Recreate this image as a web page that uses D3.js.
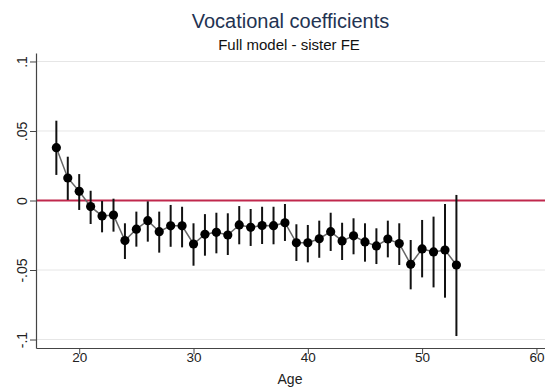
<!DOCTYPE html>
<html>
<head>
<meta charset="utf-8">
<script src="https://cdn.jsdelivr.net/npm/d3@7"></script>
<style>
  html, body { margin: 0; padding: 0; background: #fff; }
  svg { display: block; font-family: "Liberation Sans", Arial, sans-serif; }
</style>
</head>
<body>
<svg id="chart" width="545" height="389"></svg>
<script>
// Age-specific coefficients with 95% confidence intervals
const ages = [18,19,20,21,22,23,24,25,26,27,28,29,30,31,32,33,34,35,36,37,38,39,40,41,42,43,44,45,46,47,48,49,50,51,52,53];
const coef = [0.038,0.0162,0.0066,-0.0044,-0.0111,-0.0105,-0.0288,-0.0206,-0.0145,-0.0224,-0.0182,-0.0182,-0.0313,-0.0243,-0.0229,-0.0248,-0.0176,-0.0193,-0.018,-0.0181,-0.016,-0.0304,-0.0304,-0.0275,-0.0224,-0.0291,-0.0254,-0.0298,-0.0327,-0.0277,-0.031,-0.0459,-0.0348,-0.037,-0.0356,-0.0464];
const ciLow = [0.0184,0.0004,-0.0068,-0.0169,-0.0229,-0.0224,-0.0421,-0.0332,-0.0296,-0.0375,-0.0333,-0.0337,-0.0469,-0.0397,-0.038,-0.0392,-0.0315,-0.0327,-0.0313,-0.0315,-0.0291,-0.0435,-0.0445,-0.0412,-0.0363,-0.0428,-0.0387,-0.044,-0.0457,-0.0409,-0.0464,-0.0639,-0.0553,-0.0625,-0.0699,-0.0975];
const ciHigh = [0.0574,0.0315,0.019,0.007,-0.0004,0.0013,-0.0164,-0.008,-0.0006,-0.008,-0.0032,-0.0045,-0.0164,-0.0098,-0.0088,-0.0092,-0.004,-0.0061,-0.0045,-0.0045,-0.0025,-0.0171,-0.0176,-0.0145,-0.0088,-0.016,-0.0128,-0.0164,-0.02,-0.0145,-0.0164,-0.0284,-0.014,-0.0116,-0.0025,0.004];

const xTicks = [20, 30, 40, 50, 60];
const yTicks = [-0.1, -0.05, 0, 0.05, 0.1];
const yTickLabels = ["-.1", "-.05", "0", ".05", ".1"];

const titleText = "Vocational coefficients";
const subtitleText = "Full model - sister FE";
const xLabel = "Age";

const rows = ages.map((a, i) => ({ age: a, b: coef[i], lo: ciLow[i], hi: ciHigh[i] }));

const svg = d3.select("#chart");
const plotLeft = 36, plotRight = 545, plotTop = 53, plotBottom = 348;

const x = d3.scaleLinear().domain([16.22, 60.75]).range([plotLeft, plotRight]);
const y = d3.scaleLinear().domain([-0.1061, 0.1061]).range([plotBottom, plotTop]);

// gridlines
svg.append("g")
  .selectAll("line")
  .data(yTicks.filter(t => t !== 0))
  .join("line")
  .attr("x1", plotLeft).attr("x2", plotRight)
  .attr("y1", d => y(d)).attr("y2", d => y(d))
  .attr("stroke", "#e6e6e6").attr("stroke-width", 1);

// reference line at zero
svg.append("line")
  .attr("x1", plotLeft).attr("x2", plotRight)
  .attr("y1", y(0)).attr("y2", y(0))
  .attr("stroke", "#c0284d").attr("stroke-width", 2);

// y axis
const yAxis = svg.append("g")
  .attr("transform", `translate(${plotLeft},0)`)
  .call(d3.axisLeft(y).tickValues(yTicks).tickSize(6).tickSizeOuter(0)
    .tickFormat((d, i) => yTickLabels[i]));
yAxis.select(".domain").attr("stroke", "#444").attr("stroke-width", 1.2);
yAxis.selectAll(".tick line").attr("stroke", "#444");
yAxis.selectAll(".tick text")
  .attr("x", 0).attr("y", 0)
  .attr("dy", 0)
  .attr("text-anchor", "middle")
  .attr("transform", "translate(-9.5,0) rotate(-90)")
  .attr("fill", "#222")
  .style("font-size", "14px")
  .style("font-family", "'Liberation Sans', Arial, sans-serif");

// x axis
const xAxis = svg.append("g")
  .attr("transform", `translate(0,${plotBottom})`)
  .call(d3.axisBottom(x).tickValues(xTicks).tickSize(6).tickSizeOuter(0).tickFormat(d3.format("d")));
xAxis.select(".domain").attr("stroke", "#444").attr("stroke-width", 1.2);
xAxis.selectAll(".tick line").attr("stroke", "#444");
xAxis.selectAll(".tick text")
  .attr("y", 4)
  .attr("fill", "#222")
  .style("font-size", "13.5px")
  .style("font-family", "'Liberation Sans', Arial, sans-serif");

svg.append("text")
  .attr("x", 290).attr("y", 384)
  .attr("text-anchor", "middle")
  .attr("fill", "#222")
  .style("font-size", "14px")
  .text(xLabel);

// confidence intervals
svg.append("g")
  .selectAll("line")
  .data(rows)
  .join("line")
  .attr("x1", d => x(d.age)).attr("x2", d => x(d.age))
  .attr("y1", d => y(d.lo)).attr("y2", d => y(d.hi))
  .attr("stroke", "#111").attr("stroke-width", 2);

// connecting line
svg.append("path")
  .datum(rows)
  .attr("fill", "none")
  .attr("stroke", "#666")
  .attr("stroke-width", 1.5)
  .attr("d", d3.line().x(d => x(d.age)).y(d => y(d.b)));

// point estimates
svg.append("g")
  .selectAll("circle")
  .data(rows)
  .join("circle")
  .attr("cx", d => x(d.age)).attr("cy", d => y(d.b))
  .attr("r", 4.6)
  .attr("fill", "#000");

// titles
svg.append("text")
  .attr("x", 290.5).attr("y", 28)
  .attr("text-anchor", "middle")
  .attr("fill", "#233352")
  .style("font-size", "20px")
  .text(titleText);

svg.append("text")
  .attr("x", 289).attr("y", 50)
  .attr("text-anchor", "middle")
  .attr("fill", "#111")
  .style("font-size", "15px")
  .text(subtitleText);
</script>
</body>
</html>
